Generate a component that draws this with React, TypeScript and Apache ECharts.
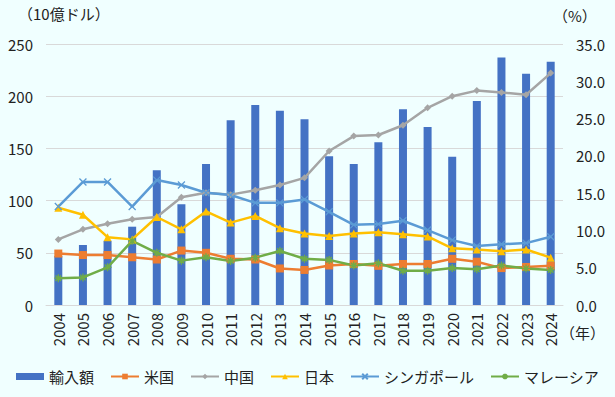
import React, { useEffect, useRef } from "react";
import * as echarts from "echarts";

const years = ["2004","2005","2006","2007","2008","2009","2010","2011","2012","2013","2014","2015","2016","2017","2018","2019","2020","2021","2022","2023","2024"];
const imports = [47, 57.5, 61.5, 75, 129, 96.5, 135, 177, 191.5, 186, 178, 142.5, 135, 156, 187.5, 170.5, 142, 195.5, 237, 221.5, 233];
const usa = [6.9, 6.7, 6.7, 6.4, 6.1, 7.3, 7.0, 6.2, 6.1, 4.9, 4.7, 5.3, 5.5, 5.25, 5.5, 5.5, 6.2, 5.8, 4.95, 5.1, 5.25];
const china = [8.8, 10.15, 10.9, 11.5, 11.8, 14.45, 15.05, 14.8, 15.4, 16.1, 17.05, 20.65, 22.65, 22.8, 24.1, 26.45, 28.0, 28.75, 28.5, 28.2, 31.1];
const japan = [13.05, 12.1, 9.1, 8.8, 11.8, 10.15, 12.55, 11.05, 11.95, 10.3, 9.6, 9.25, 9.6, 9.75, 9.5, 9.2, 7.6, 7.45, 7.2, 7.45, 6.35];
const singapore = [13.2, 16.5, 16.5, 13.2, 16.75, 16.1, 15.05, 14.75, 13.7, 13.7, 14.15, 12.5, 10.75, 10.85, 11.3, 10.05, 8.7, 7.9, 8.15, 8.3, 9.15];
const malaysia = [3.6, 3.7, 5.05, 8.6, 7.0, 5.95, 6.4, 5.9, 6.35, 7.25, 6.2, 6.05, 5.3, 5.6, 4.6, 4.6, 4.95, 4.8, 5.3, 4.9, 4.7];

const FONT = "'Noto Sans CJK JP', 'Noto Sans', sans-serif";
const TXT = "#222";
const xSym = "path://M0,0L10,10M10,0L0,10";
const starSym = "path://M5,0L5,10M0,5L10,5M1.5,1.5L8.5,8.5M8.5,1.5L1.5,8.5";

function lineSeries(name: string, data: number[], color: string, symbol: string, size: number, open = false) {
  return {
    name,
    type: "line",
    yAxisIndex: 1,
    data,
    symbol,
    symbolSize: size,
    showSymbol: true,
    lineStyle: { color, width: 2.5 },
    itemStyle: open
      ? { color: color, borderColor: color, borderWidth: 1.3 }
      : { color, borderColor: color, borderWidth: 0 },
    emphasis: { disabled: true },
    z: 3,
  };
}

export default function App() {
  const ref = useRef<HTMLDivElement>(null);
  useEffect(() => {
    document.body.style.margin = "0";
    if (!ref.current) return;
    const chart = echarts.init(ref.current, null, { renderer: "svg" });
    chart.setOption({
      animation: false,
      backgroundColor: "#F0FFFF",
      textStyle: { fontFamily: FONT },
      grid: { left: 46, right: 52, top: 44, bottom: 92 },
      legend: {
        top: 364,
        left: "center",
        itemWidth: 28,
        itemHeight: 7,
        itemGap: 16,
        textStyle: { fontFamily: FONT, fontSize: 15, color: TXT },
        data: [
          { name: "輸入額", icon: "rect", itemStyle: { color: "#4472C4" } },
          "米国", "中国", "日本", "シンガポール", "マレーシア",
        ],
      },
      graphic: [
        { type: "text", left: 18, top: 6, style: { text: "（10億ドル）", fontFamily: FONT, fontSize: 15, fill: TXT } },
        { type: "text", left: 553, top: 8, style: { text: "（%）", fontFamily: FONT, fontSize: 15, fill: TXT } },
        { type: "text", left: 560, top: 325, style: { text: "（年）", fontFamily: FONT, fontSize: 15, fill: TXT } },
      ],
      xAxis: {
        type: "category",
        data: years,
        axisLine: { lineStyle: { color: "#D9D9D9" } },
        axisTick: { show: false },
        axisLabel: { rotate: 90, fontSize: 15, color: TXT, fontFamily: FONT, margin: 8 },
      },
      yAxis: [
        {
          type: "value",
          min: 0,
          max: 250,
          interval: 50,
          axisLine: { show: false },
          axisTick: { show: false },
          splitLine: { lineStyle: { color: "#D9D9D9", width: 1 } },
          axisLabel: { fontSize: 15, color: TXT, fontFamily: FONT, margin: 13 },
        },
        {
          type: "value",
          min: 0,
          max: 35,
          interval: 5,
          axisLine: { show: false },
          axisTick: { show: false },
          splitLine: { show: false },
          axisLabel: { fontSize: 15, color: TXT, fontFamily: FONT, margin: 13, formatter: (v: number) => v.toFixed(1) },
        },
      ],
      series: [
        {
          name: "輸入額",
          type: "bar",
          yAxisIndex: 0,
          data: imports,
          barWidth: 8,
          itemStyle: { color: "#4472C4" },
          emphasis: { disabled: true },
          z: 2,
        },
        lineSeries("米国", usa, "#ED7D31", "rect", 8),
        lineSeries("中国", china, "#A5A5A5", "diamond", 7),
        lineSeries("日本", japan, "#FFC000", "triangle", 8),
        lineSeries("シンガポール", singapore, "#5B9BD5", xSym, 7, true),
        lineSeries("マレーシア", malaysia, "#70AD47", starSym, 8, true),
      ],
    });
    return () => chart.dispose();
  }, []);
  return <div ref={ref} style={{ width: 615, height: 397 }} />;
}
